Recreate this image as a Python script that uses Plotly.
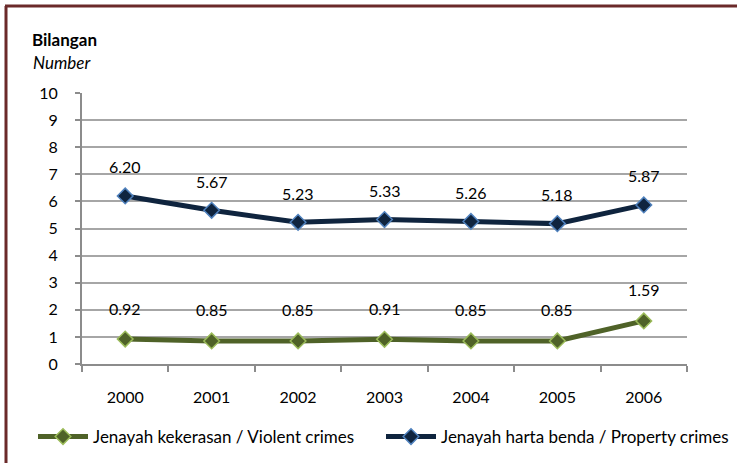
import plotly.graph_objects as go

years = ["2000", "2001", "2002", "2003", "2004", "2005", "2006"]
violent = [0.92, 0.85, 0.85, 0.91, 0.85, 0.85, 1.59]
property_ = [6.20, 5.67, 5.23, 5.33, 5.26, 5.18, 5.87]
y_ticks = list(range(0, 11))

FONT = "Lato"
W, H = 737, 463
L, R, T, B = 82, 50, 93, 99
pw, ph = W - L - R, H - T - B

def px_x(p):
    return (p - L) / pw

def px_y(p):
    return 1 - (p - T) / ph

fig = go.Figure()
fig.add_trace(go.Scatter(
    x=years, y=violent, mode="lines+markers",
    name="Jenayah kekerasan / Violent crimes", legend="legend",
    line=dict(color="#4f6228", width=5),
    marker=dict(symbol="diamond", size=12, color="#4f6228",
                line=dict(color="#9bbb59", width=1.5)),
))
fig.add_trace(go.Scatter(
    x=years, y=property_, mode="lines+markers",
    name="Jenayah harta benda / Property crimes", legend="legend2",
    line=dict(color="#0f243e", width=5),
    marker=dict(symbol="diamond", size=12, color="#0f243e",
                line=dict(color="#4f81bd", width=1.5)),
))

annotations = []
for i, v in enumerate(violent):
    annotations.append(dict(xref="x", yref="y", x=i, y=v, text=f"{v:.2f}", showarrow=False,
                            yshift=31, font=dict(family=FONT, size=16, color="#000")))
for i, v in enumerate(property_):
    annotations.append(dict(xref="x", yref="y", x=i, y=v, text=f"{v:.2f}", showarrow=False,
                            yshift=29, font=dict(family=FONT, size=16, color="#000")))
annotations.append(dict(xref="paper", yref="paper", x=px_x(30), y=px_y(40),
                        xanchor="left", yanchor="middle", text="<b>Bilangan</b>",
                        showarrow=False, font=dict(family=FONT, size=17, color="#000")))
annotations.append(dict(xref="paper", yref="paper", x=px_x(31), y=px_y(62),
                        xanchor="left", yanchor="middle", text="<i>Number</i>",
                        showarrow=False, font=dict(family=FONT, size=17, color="#000")))

border = "#6b2a2a"
shapes = [
    dict(type="line", xref="paper", yref="paper", x0=px_x(6), x1=px_x(6),
         y0=px_y(6), y1=px_y(470), line=dict(color=border, width=3)),
    dict(type="line", xref="paper", yref="paper", x0=px_x(5), x1=px_x(745),
         y0=px_y(6), y1=px_y(6), line=dict(color=border, width=3)),
]

legend_common = dict(orientation="h", xanchor="left", yanchor="middle",
                     font=dict(family=FONT, size=17, color="#000"),
                     itemwidth=50, bgcolor="rgba(0,0,0,0)")

fig.update_layout(
    width=W, height=H,
    margin=dict(l=L, r=R, t=T, b=B, autoexpand=False),
    paper_bgcolor="white", plot_bgcolor="white",
    font=dict(family=FONT, size=16, color="#000"),
    showlegend=True,
    legend=dict(x=px_x(33), y=px_y(437), **legend_common),
    legend2=dict(x=px_x(381), y=px_y(437), **legend_common),
    annotations=annotations,
    shapes=shapes,
    xaxis=dict(type="category", range=[-0.5, 6.5], tickson="boundaries",
               ticks="outside", ticklen=6,
               tickcolor="#8c8c8c", tickwidth=2, showline=True, linecolor="#8c8c8c",
               linewidth=2, showgrid=False, ticklabelstandoff=18,
               tickfont=dict(family=FONT, size=16)),
    yaxis=dict(range=[0, 10], tickvals=y_ticks, ticks="outside", ticklen=5,
               tickcolor="#8c8c8c", tickwidth=2, showline=True, linecolor="#8c8c8c",
               linewidth=2, showgrid=True, gridcolor="#a6a6a6", gridwidth=2,
               zeroline=False, ticklabelstandoff=14,
               tickfont=dict(family=FONT, size=16)),
)

fig.write_html("out.html", config={"displayModeBar": False},
               post_script="document.body.style.margin='0px';")
